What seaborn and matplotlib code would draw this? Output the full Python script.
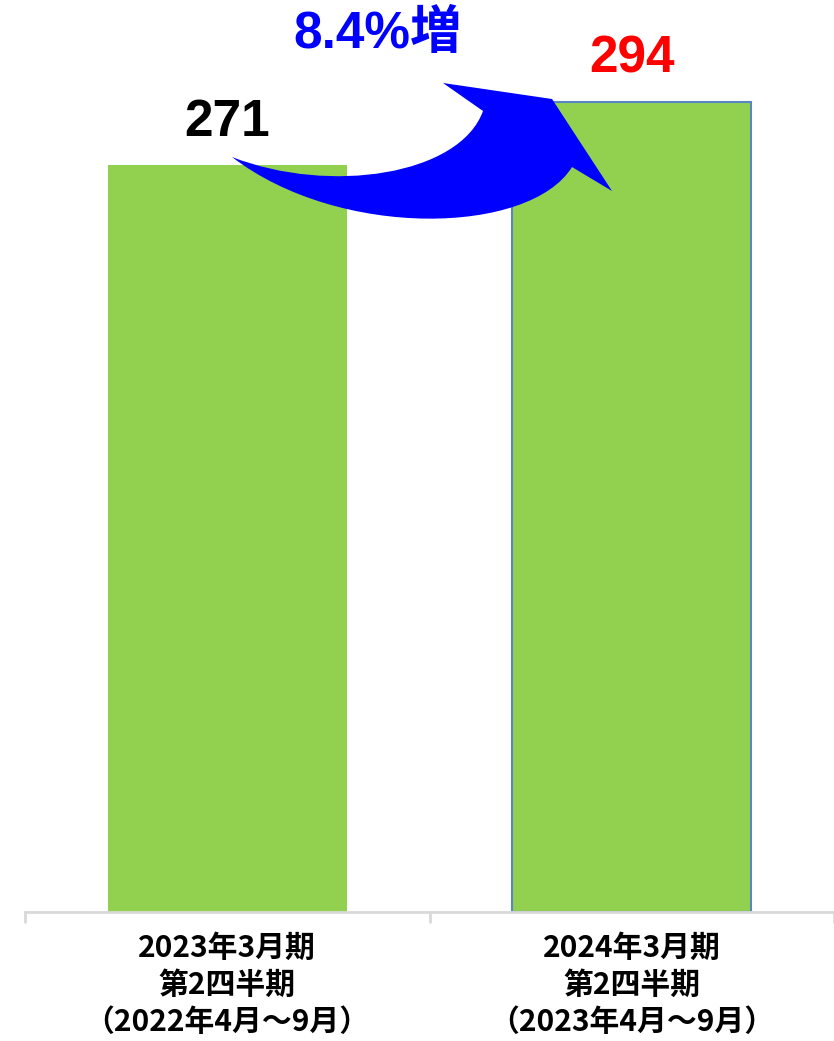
import matplotlib
matplotlib.use("Agg")
import matplotlib.pyplot as plt
import seaborn as sns
from matplotlib.path import Path
from matplotlib.patches import PathPatch

categories = ["2023年3月期\n第2四半期\n（2022年4月～9月）",
              "2024年3月期\n第2四半期\n（2023年4月～9月）"]
values = [271, 294]
value_labels = ["271", "294"]
label_colors = ["black", "#FF0000"]
growth_text = "8.4%増"

sns.set_theme(style="white")
plt.rcParams['font.family'] = ['Noto Sans CJK JP', 'DejaVu Sans']

W, H = 834, 1041
fig = plt.figure(figsize=(W / 100, H / 100), dpi=100)
ax = fig.add_axes([25 / W, (H - 912) / H, (W - 25) / W, 912 / H])

sns.barplot(x=categories, y=values, color="#92D050", width=0.59,
            saturation=1, ax=ax)
for i, p in enumerate(ax.patches):
    p.set_linewidth(0)
    if i == 1:
        p.set_edgecolor("#5B86C5")
        p.set_linewidth(1.5)

ax.set_xlim(-0.5, 1.5)
ax.set_ylim(0, 912 / 2.756)

for s in ["top", "left", "right"]:
    ax.spines[s].set_visible(False)
ax.spines["bottom"].set_color("#D9D9D9")
ax.spines["bottom"].set_linewidth(2)
ax.set_yticks([])
ax.set_xticks([-0.5, 0.5, 1.5], minor=True)
ax.tick_params(axis="x", which="minor", length=8, width=2, color="#D9D9D9",
               direction="out", bottom=True)
ax.tick_params(axis="x", which="major", length=0, pad=15)
for t in ax.get_xticklabels():
    t.set_fontsize(21.5)
    t.set_fontweight("bold")
    t.set_linespacing(1.3)
    t.set_color("black")
ax.set_xlabel("")
ax.set_ylabel("")

for i, v in enumerate(values):
    ax.annotate(value_labels[i], xy=(i, v), xytext=(0, 13),
                textcoords="offset points", ha="center", va="bottom",
                fontsize=37, fontweight="bold", color=label_colors[i],
                family=["Liberation Sans", "DejaVu Sans"])

fig.text(378 / W, 1 - 34 / H, growth_text, ha="center", va="center",
         fontsize=37, fontweight="bold", color="#0000FF",
         family=["Liberation Sans", "Noto Sans CJK JP"])

# curved arrow decoration (pixel coords, y downward)
pts = [(232, 157), (330, 195), (460, 175), (483, 111),
       (443, 83), (552, 99), (612, 191), (572, 167),
       (530, 235), (340, 240), (232, 157)]
codes = [Path.MOVETO, Path.CURVE4, Path.CURVE4, Path.CURVE4,
         Path.LINETO, Path.LINETO, Path.LINETO, Path.LINETO,
         Path.CURVE4, Path.CURVE4, Path.CURVE4]
verts = [(x / W, 1 - y / H) for x, y in pts]
arrow = PathPatch(Path(verts, codes), facecolor="#0000FF", edgecolor="none",
                  transform=fig.transFigure, zorder=10)
fig.patches.append(arrow)

fig.savefig("out.png", dpi=100)
